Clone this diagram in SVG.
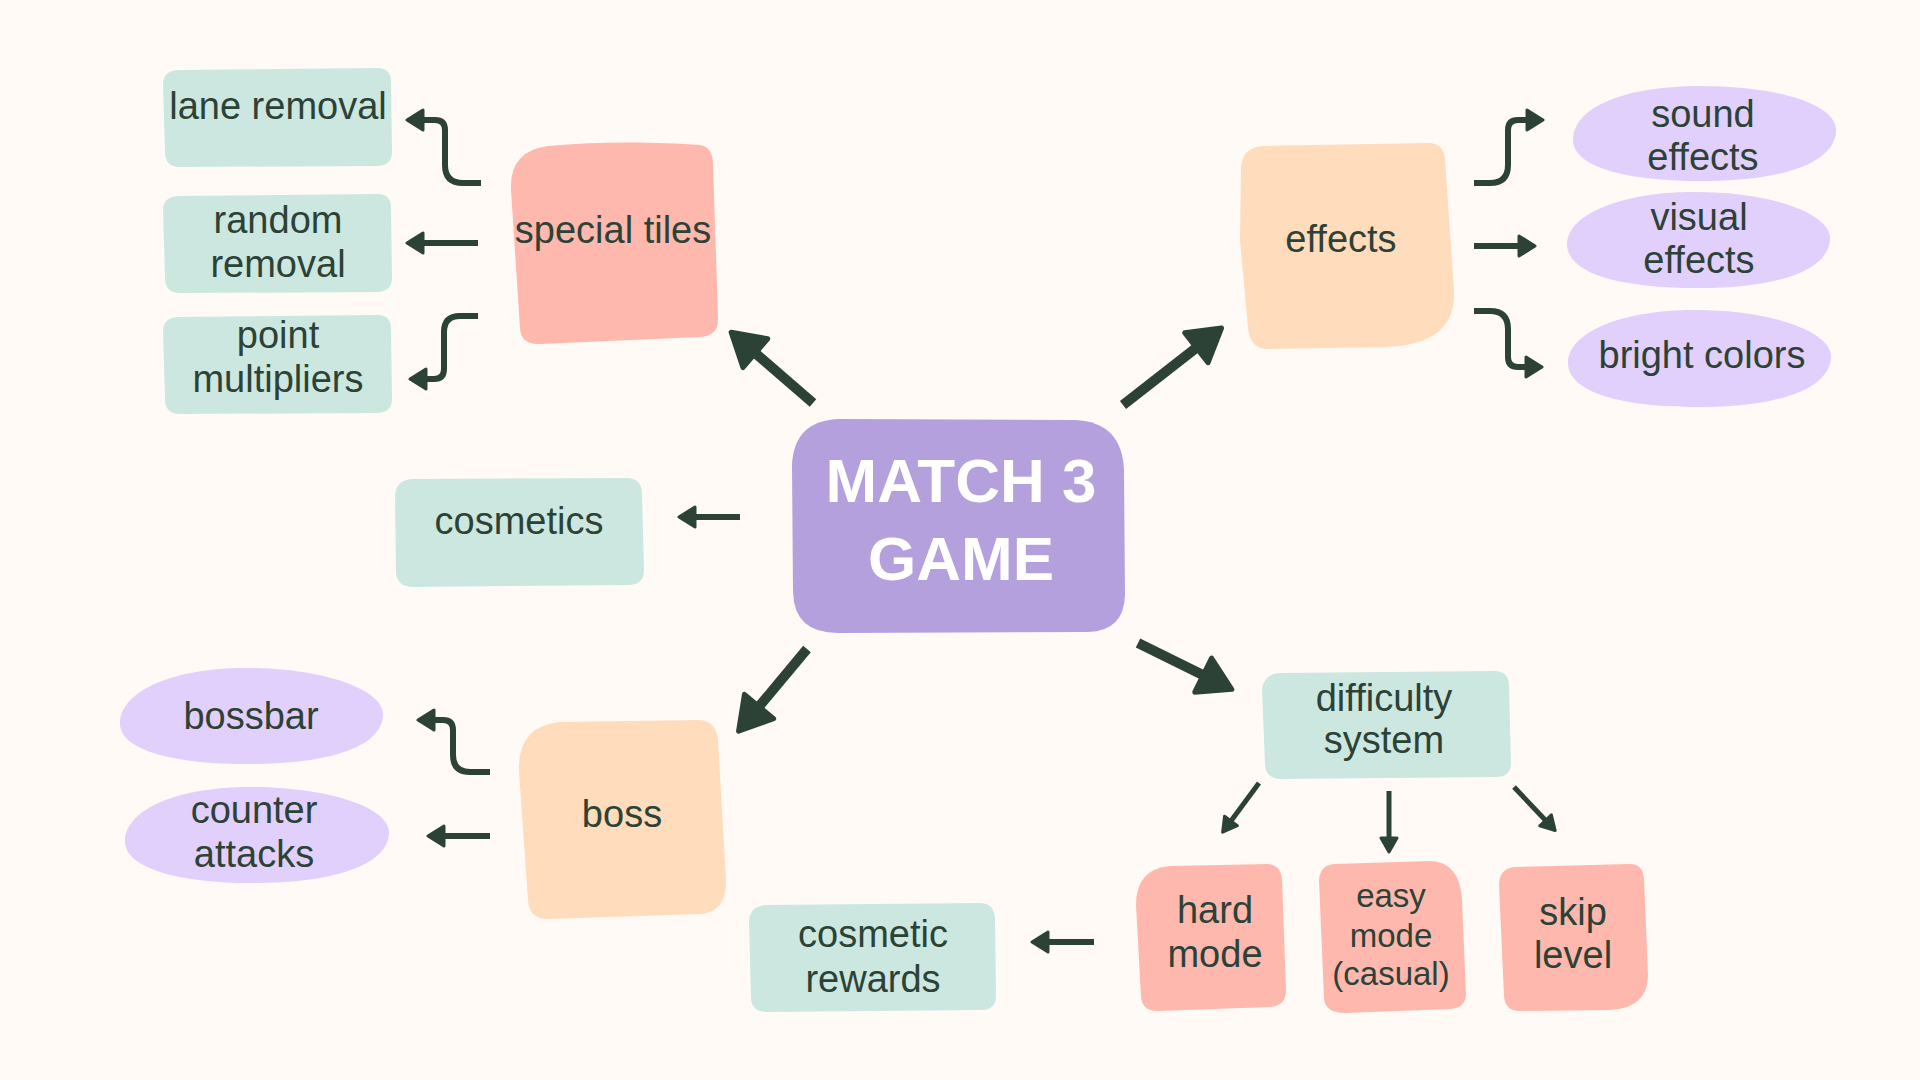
<svg xmlns="http://www.w3.org/2000/svg" width="1920" height="1080" viewBox="0 0 1920 1080">
<defs>
<style>
.t{font-family:"Liberation Sans",Arial,sans-serif;font-size:38px;fill:#2d4236;text-anchor:middle}
.sm{font-size:33px}
.title{font-family:"Liberation Sans",Arial,sans-serif;font-size:62px;font-weight:bold;fill:#ffffff;text-anchor:middle}
.teal{fill:#cce7e0}
.pink{fill:#ffb8ae}
.peach{fill:#ffdcbb}
.lav{fill:#e1cffc}
.main{fill:#b3a0dd}
.c{fill:none;stroke:#2d4236;stroke-linejoin:round}
.big{stroke-width:10;marker-end:url(#ahb)}
.s{stroke-width:6;marker-end:url(#ahs)}
.th{stroke-width:5;marker-end:url(#aht)}
</style>
<marker id="ahb" viewBox="0 0 38 44" refX="14" refY="22" markerWidth="38" markerHeight="44" markerUnits="userSpaceOnUse" orient="auto">
<path d="M3,3 L35,22 L3,41 Z" fill="#2d4236" stroke="#2d4236" stroke-width="5" stroke-linejoin="round"/>
</marker>
<marker id="ahs" viewBox="0 0 20 24" refX="8" refY="12" markerWidth="20" markerHeight="24" markerUnits="userSpaceOnUse" orient="auto">
<path d="M2,2 L18,12 L2,22 Z" fill="#2d4236" stroke="#2d4236" stroke-width="3" stroke-linejoin="round"/>
</marker>
<marker id="aht" viewBox="0 0 18 20" refX="7" refY="10" markerWidth="18" markerHeight="20" markerUnits="userSpaceOnUse" orient="auto">
<path d="M2,2 L16,10 L2,18 Z" fill="#2d4236" stroke="#2d4236" stroke-width="3" stroke-linejoin="round"/>
</marker>
</defs>
<rect width="1920" height="1080" fill="#fffaf6"/>

<g id="connectors">
<path class="c big" d="M813,403 L747,346"/>
<path class="c big" d="M1123,405 L1205,341"/>
<path class="c big" d="M807,649 L752,715"/>
<path class="c big" d="M1138,643 L1213,680"/>
<path class="c s" d="M481,183 H463 Q445,183 445,165 V130 Q445,120 435,120 H417"/>
<path class="c s" d="M478,243 H417"/>
<path class="c s" d="M478,316 H460 Q444,316 444,332 V369 Q444,379 434,379 H420"/>
<path class="c s" d="M1474,183 H1490 Q1508,183 1508,165 V130 Q1508,120 1518,120 H1533"/>
<path class="c s" d="M1474,246 H1525"/>
<path class="c s" d="M1474,311 H1490 Q1508,311 1508,329 V357 Q1508,367 1518,367 H1532"/>
<path class="c s" d="M490,772 H470 Q453,772 453,755 V730 Q453,720 443,720 H428"/>
<path class="c s" d="M490,836 H438"/>
<path class="c s" d="M740,517 H689"/>
<path class="c s" d="M1094,942 H1042"/>
<path class="c th" d="M1259,783 L1228,825"/>
<path class="c th" d="M1389,791 V843"/>
<path class="c th" d="M1514,787 L1549,824"/>
</g>

<g id="node-main">
<path class="main" d="M840,419 L1075,420 Q1122,422 1124,470 L1125,595 Q1124,631 1088,632 L838,633 Q794,633 793,592 L792,465 Q794,420 840,419 Z"/>
<text class="title" x="961" y="502">MATCH 3</text>
<text class="title" x="961" y="580">GAME</text>
</g>

<g id="node-special-tiles">
<path class="pink" d="M548,146 C600,141 660,142 700,145 Q712,147 713,162 L718,318 Q719,336 700,337 L540,344 Q521,345 520,328 L511,190 Q509,151 548,146 Z"/>
<text class="t" x="613" y="243">special tiles</text>
</g>

<g id="node-lane-removal">
<path class="teal" d="M178,70 L378,68 Q391,68 391,82 L392,152 Q392,165 378,166 L180,167 Q165,167 165,152 L163,84 Q163,71 178,70 Z"/>
<text class="t" x="278" y="119">lane removal</text>
</g>

<g id="node-random-removal">
<path class="teal" d="M178,196 L378,194 Q391,194 391,208 L392,278 Q392,291 378,292 L180,293 Q165,293 165,278 L163,210 Q163,197 178,196 Z"/>
<text class="t" x="278" y="233">random</text>
<text class="t" x="278" y="277">removal</text>
</g>

<g id="node-point-multipliers">
<path class="teal" d="M178,317 L378,315 Q391,315 391,329 L392,399 Q392,412 378,413 L180,414 Q165,414 165,399 L163,331 Q163,318 178,317 Z"/>
<text class="t" x="278" y="348">point</text>
<text class="t" x="278" y="392">multipliers</text>
</g>

<g id="node-cosmetics">
<path class="teal" d="M412,479 L628,478 Q642,479 642,494 L644,570 Q644,585 628,585 L413,587 Q397,587 396,572 L395,496 Q396,480 412,479 Z"/>
<text class="t" x="519" y="534">cosmetics</text>
</g>

<g id="node-effects">
<path class="peach" d="M1262,146 L1430,143 Q1444,144 1445,160 L1454,290 Q1457,345 1385,347 L1268,349 Q1250,349 1248,328 L1240,240 L1241,168 Q1242,148 1262,146 Z"/>
<text class="t" x="1341" y="252">effects</text>
</g>

<g id="node-sound-effects">
<path class="lav" d="M1573,140 C1573,105 1630,86 1700,86 C1780,86 1836,105 1836,130 C1836,160 1790,180 1710,181 C1630,182 1573,168 1573,140 Z"/>
<text class="t" x="1703" y="127">sound</text>
<text class="t" x="1703" y="170">effects</text>
</g>

<g id="node-visual-effects">
<path class="lav" d="M1567,244 C1567,215 1620,192 1695,192 C1775,192 1830,215 1830,238 C1830,268 1785,287 1705,288 C1625,289 1567,275 1567,244 Z"/>
<text class="t" x="1699" y="230">visual</text>
<text class="t" x="1699" y="273">effects</text>
</g>

<g id="node-bright-colors">
<path class="lav" d="M1568,363 C1568,333 1620,310 1695,310 C1775,310 1831,333 1831,356 C1831,386 1787,406 1705,407 C1625,408 1568,393 1568,363 Z"/>
<text class="t" x="1702" y="368">bright colors</text>
</g>

<g id="node-boss">
<path class="peach" d="M560,722 L700,720 Q716,721 718,740 L726,880 Q727,912 700,914 L548,919 Q529,919 528,900 L519,772 Q517,726 560,722 Z"/>
<text class="t" x="622" y="827">boss</text>
</g>

<g id="node-bossbar">
<path class="lav" d="M120,722 C122,690 175,668 245,668 C325,668 383,690 383,714 C383,745 335,763 255,764 C175,765 118,750 120,722 Z"/>
<text class="t" x="251" y="729">bossbar</text>
</g>

<g id="node-counter-attacks">
<path class="lav" d="M125,840 C127,808 180,787 250,787 C330,787 389,808 389,832 C389,863 340,882 260,883 C180,884 123,868 125,840 Z"/>
<text class="t" x="254" y="823">counter</text>
<text class="t" x="254" y="867">attacks</text>
</g>

<g id="node-difficulty-system">
<path class="teal" d="M1280,673 L1494,671 Q1509,671 1509,686 L1511,763 Q1511,777 1496,777 L1283,779 Q1265,779 1265,764 L1262,690 Q1263,674 1280,673 Z"/>
<text class="t" x="1384" y="711">difficulty</text>
<text class="t" x="1384" y="753">system</text>
</g>

<g id="node-hard-mode">
<path class="pink" d="M1170,866 L1268,864 Q1281,865 1282,880 L1286,990 Q1286,1006 1270,1007 L1157,1011 Q1142,1011 1141,996 L1136,905 Q1136,869 1170,866 Z"/>
<text class="t" x="1215" y="923">hard</text>
<text class="t" x="1215" y="967">mode</text>
</g>

<g id="node-easy-mode">
<path class="pink" d="M1334,864 L1430,861 Q1460,862 1462,900 L1466,995 Q1465,1008 1450,1009 L1345,1013 Q1325,1013 1324,998 L1319,880 Q1320,865 1334,864 Z"/>
<text class="t sm" x="1391" y="907">easy</text>
<text class="t sm" x="1391" y="947">mode</text>
<text class="t sm" x="1391" y="985">(casual)</text>
</g>

<g id="node-skip-level">
<path class="pink" d="M1515,867 L1630,864 Q1643,864 1644,879 L1648,975 Q1648,1008 1610,1010 L1520,1011 Q1505,1011 1504,996 L1499,884 Q1500,868 1515,867 Z"/>
<text class="t" x="1573" y="925">skip</text>
<text class="t" x="1573" y="968">level</text>
</g>

<g id="node-cosmetic-rewards">
<path class="teal" d="M766,905 L981,903 Q994,904 995,918 L996,996 Q996,1010 981,1010 L767,1012 Q751,1012 751,997 L749,921 Q750,906 766,905 Z"/>
<text class="t" x="873" y="947">cosmetic</text>
<text class="t" x="873" y="992">rewards</text>
</g>
</svg>
